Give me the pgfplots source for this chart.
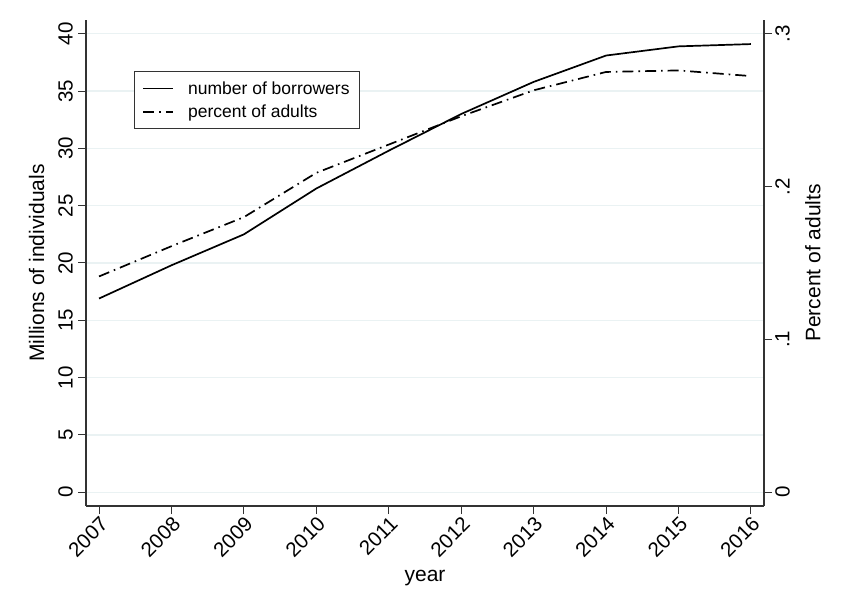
\documentclass[border=0pt]{standalone}
\usepackage{pgfplots}
\pgfplotsset{compat=1.18}
\usepackage{fontspec}
\setmainfont{Liberation Sans}

\definecolor{gridc}{HTML}{EAF2F3}
\definecolor{axisc}{HTML}{333333}

\tikzset{
  dashdot/.style={dash pattern=on 11pt off 5pt on 1.6pt off 5pt},
  series/.style={black, line width=1.7pt},
}

\pgfplotsset{
  common/.style={
    scale only axis,
    width=678pt, height=486pt,
    xmin=2006.82, xmax=2016.18,
    /pgf/number format/assume math mode=true,
    tick align=outside,
    major tick length=8pt,
    tick style={axisc, line width=1pt},
    axis line style={axisc, line width=1.2pt},
    tick label style={font=\fontsize{20.5}{22}\selectfont, text=black},
    label style={font=\fontsize{21}{23}\selectfont},
  }
}

\begin{document}
\begin{tikzpicture}
% Left axis: number of borrowers (millions)
\begin{axis}[
  common,
  name=ax,
  axis y line*=left,
  axis x line*=bottom,
  ymin=-1.2, ymax=41.2,
  ytick={0,5,...,40},
  ymajorgrids,
  grid style={gridc, line width=1.2pt},
  yticklabel style={rotate=90, anchor=south, inner sep=5pt},
  xtick={2007,...,2016},
  xticklabels={2007,2008,2009,2010,2011,2012,2013,2014,2015,2016},
  xticklabel style={rotate=45, anchor=north east, inner sep=1pt},
  xlabel={year},
  xlabel style={at={(axis description cs:0.5,-0.148)}, anchor=center},
  ylabel={Millions of individuals},
  ylabel style={at={(axis description cs:-0.073,0.5)}, anchor=center, rotate=0},
  legend style={
    at={(0.0708,0.895)}, anchor=north west,
    draw=axisc, thick,
    font=\fontsize{17.5}{20}\selectfont,
    inner xsep=8pt, inner ysep=8pt,
    row sep=5pt,
    legend cell align=left,
    /tikz/every odd column/.append style={column sep=12pt},
  },
  legend image code/.code={\draw[#1] (0pt,0pt) -- (30pt,0pt);},
]
\addplot[series, forget plot] coordinates {
  (2007,16.9) (2008,19.8) (2009,22.5) (2010,26.5) (2011,29.8)
  (2012,33.0) (2013,35.8) (2014,38.1) (2015,38.9) (2016,39.1)
};
\addlegendimage{series, line width=1.7pt}
\addlegendentry{number of borrowers}
\addlegendimage{series, line width=1.7pt, dashdot}
\addlegendentry{percent of adults}
\end{axis}

% Right axis: share of adults
\begin{axis}[
  common,
  axis y line*=right,
  axis x line=none,
  xtick=\empty,
  ymin=-0.009, ymax=0.309,
  ytick={0,0.1,0.2,0.3},
  yticklabels={0,.1,.2,.3},
  yticklabel style={rotate=90, anchor=north, inner sep=3pt},
  ylabel={Percent of adults},
  ylabel style={at={(axis description cs:1.072,0.5)}, anchor=center},
]
\addplot[series, dashdot] coordinates {
  (2007,0.1412) (2008,0.161) (2009,0.180) (2010,0.209) (2011,0.2275)
  (2012,0.246) (2013,0.263) (2014,0.275) (2015,0.276) (2016,0.2723)
};
\end{axis}

% page margins around the plot area
\path (ax.south west) ++(-86pt,-107pt);
\path (ax.north east) ++(83pt,20pt);
\end{tikzpicture}
\end{document}
